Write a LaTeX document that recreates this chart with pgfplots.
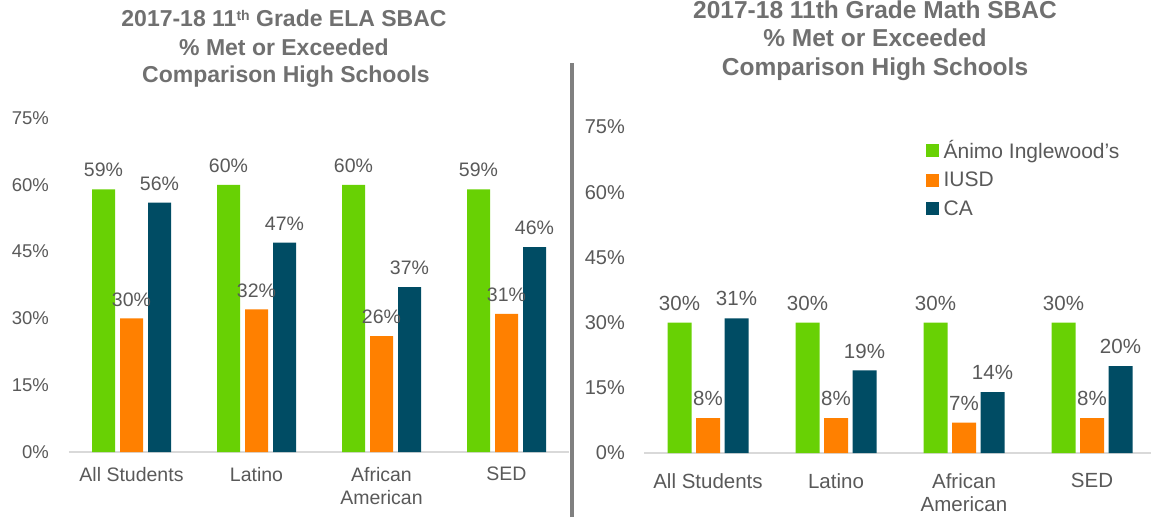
\documentclass[border=0pt]{standalone}
\usepackage{fontspec}
\setmainfont{Liberation Sans}
\usepackage{pgfplots}
\pgfplotsset{compat=1.18}
\definecolor{cgreen}{RGB}{104,209,4}
\definecolor{corange}{RGB}{255,128,0}
\definecolor{cblue}{RGB}{0,76,100}
\definecolor{ctext}{RGB}{89,89,89}
\definecolor{ctitle}{RGB}{112,112,112}
\definecolor{caxis}{RGB}{217,217,217}
\definecolor{csep}{RGB}{128,128,128}
\pgfplotsset{
  mybars/.style={
    scale only axis,
    ymin=0, ymax=75, xmin=-0.5,
    axis x line=bottom, axis y line=left,
    axis line style={-},
    x axis line style={draw=caxis, line width=1.5pt},
    y axis line style={draw=none},
    major tick length=0pt,
    xtick={0,1,2,3},
    xticklabels={All Students, Latino, African\\American, SED},
    ytick={0,15,30,45,60,75},
    yticklabels={0\%,15\%,30\%,45\%,60\%,75\%},
    /pgf/number format/assume math mode=true,
    nodes near coords={\pgfmathprintnumber{\pgfplotspointmeta}\%},
    every node near coord/.append style={anchor=south, inner sep=0pt, yshift=12pt, text=ctext},
    tick label style={text=ctext},
    xticklabel style={anchor=north, inner sep=0pt, align=center},
    yticklabel style={anchor=east, inner sep=0pt},
    clip=false,
  }
}
\begin{document}
\begin{tikzpicture}[x=1pt,y=1pt]
\path[use as bounding box] (0,0) rectangle (1151,517);
% separator
\draw[csep, line width=3.5pt] (572,0) -- (572,454);
% titles
\node[anchor=base, text=ctitle, font=\fontsize{23}{28}\selectfont\bfseries] at (284,490) {2017-18 11{\fontsize{14}{14}\selectfont\raisebox{6pt}{th}} Grade ELA SBAC};
\node[anchor=base, text=ctitle, font=\fontsize{23}{28}\selectfont\bfseries] at (284,461) {\% Met or Exceeded};
\node[anchor=base, text=ctitle, font=\fontsize{23}{28}\selectfont\bfseries] at (286,434) {Comparison High Schools};
\node[anchor=base, text=ctitle, font=\fontsize{24.5}{29}\selectfont\bfseries] at (875,498) {2017-18 11th Grade Math SBAC};
\node[anchor=base, text=ctitle, font=\fontsize{24.5}{29}\selectfont\bfseries] at (875,470) {\% Met or Exceeded};
\node[anchor=base, text=ctitle, font=\fontsize{24.5}{29}\selectfont\bfseries] at (875,441) {Comparison High Schools};
% left chart
\begin{axis}[mybars, at={(69pt,65pt)}, anchor=south west,
  width=500pt, height=334pt, xmax=3.5,
  ybar=5pt, bar width=23pt,
  every node near coord/.append style={font=\fontsize{19.5}{23}\selectfont},
  xticklabel style={font=\fontsize{19.5}{23.5}\selectfont, yshift=-15pt},
  yticklabel style={font=\fontsize{18.5}{22}\selectfont, xshift=-20pt},
]
\addplot[fill=cgreen, draw=none] coordinates {(0,59) (1,60) (2,60) (3,59)};
\addplot[fill=corange, draw=none] coordinates {(0,30) (1,32) (2,26) (3,31)};
\addplot[fill=cblue, draw=none] coordinates {(0,56) (1,47) (2,37) (3,46)};
\end{axis}
% right chart
\begin{axis}[mybars, at={(644pt,64pt)}, anchor=south west,
  width=507pt, height=326pt, xmax=3.461,
  ybar=4.5pt, bar width=24pt,
  every node near coord/.append style={font=\fontsize{20.5}{24}\selectfont},
  xticklabel style={font=\fontsize{20.5}{23.5}\selectfont, yshift=-20pt},
  yticklabel style={font=\fontsize{20}{24}\selectfont, xshift=-19pt},
  legend style={draw=none, fill=none, at={(0.555,0.965)}, anchor=north west,
    font=\fontsize{21}{24}\selectfont, text=ctext, row sep=8pt, inner sep=0pt,
    nodes={inner sep=2pt}, column sep=3pt},
  legend cell align=left,
  legend image code/.code={\fill[#1, draw=none] (0pt,-6.5pt) rectangle (13pt,6.5pt);},
]
\addplot[fill=cgreen, draw=none] coordinates {(0,30) (1,30) (2,30) (3,30)};
\addplot[fill=corange, draw=none] coordinates {(0,8) (1,8) (2,7) (3,8)};
\addplot[fill=cblue, draw=none] coordinates {(0,31) (1,19) (2,14) (3,20)};
\legend{Ánimo Inglewood’s, IUSD, CA}
\end{axis}
\end{tikzpicture}
\end{document}
